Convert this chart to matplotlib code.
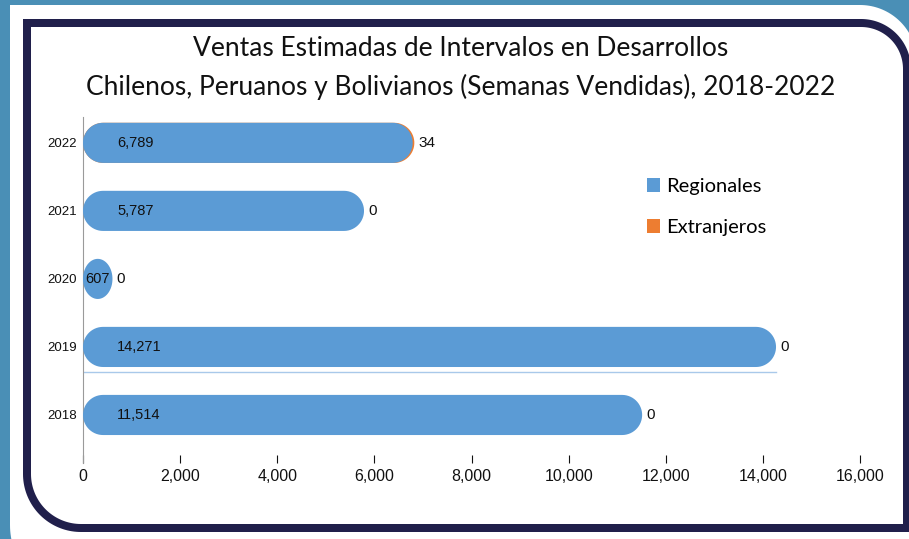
import matplotlib
matplotlib.use("Agg")
import matplotlib.pyplot as plt
from matplotlib.patches import PathPatch, Patch
from matplotlib.path import Path
from matplotlib.transforms import Affine2D
import numpy as np

# data
years = ["2018", "2019", "2020", "2021", "2022"]
regionales = [11514, 14271, 607, 5787, 6789]
extranjeros = [0, 0, 0, 0, 34]
x_ticks = [0, 2000, 4000, 6000, 8000, 10000, 12000, 14000, 16000]
series_names = ["Regionales", "Extranjeros"]
title = ("Ventas Estimadas de Intervalos en Desarrollos\n"
         "Chilenos, Peruanos y Bolivianos (Semanas Vendidas), 2018-2022")

W, H = 909, 539
BLUE = "#5b9bd5"
ORANGE = "#ed7d31"
NAVY = "#201f4b"
TEAL = "#4a8fb6"
SANS = "Liberation Sans"


def card_path(x0, y0, x1, y1, r_tr, r_bl, n=40):
    # box in pixel coords (y down), round top-right and bottom-left corners
    pts = [(x0, y0)]
    t = np.linspace(-np.pi / 2, 0, n)
    pts += list(zip(x1 - r_tr + r_tr * np.cos(t), y0 + r_tr + r_tr * np.sin(t)))
    pts.append((x1, y1))
    t = np.linspace(np.pi / 2, np.pi, n)
    pts += list(zip(x0 + r_bl + r_bl * np.cos(t), y1 - r_bl + r_bl * np.sin(t)))
    pts.append((x0, y0))
    return Path(pts, closed=True)


def capsule(x0, x1, yc, h, rx_max, n=30):
    # bar with fully rounded ends, squashed into an ellipse if too short
    rx = min(rx_max, (x1 - x0) / 2)
    ry = h / 2
    t = np.linspace(-np.pi / 2, np.pi / 2, n)
    pts = list(zip(x1 - rx + rx * np.cos(t), yc + ry * np.sin(t)))
    t = np.linspace(np.pi / 2, 3 * np.pi / 2, n)
    pts += list(zip(x0 + rx + rx * np.cos(t), yc + ry * np.sin(t)))
    pts.append(pts[0])
    return Path(pts, closed=True)


fig = plt.figure(figsize=(W / 100, H / 100), dpi=100)
fig.patch.set_facecolor(TEAL)
px = Affine2D().scale(1 / W, -1 / H).translate(0, 1) + fig.transFigure

fig.add_artist(PathPatch(card_path(10, 5, 917, 600, 57, 75), transform=px,
                         facecolor="white", edgecolor="none", zorder=-5))
fig.add_artist(PathPatch(card_path(23, 19, 911, 532, 50, 58), transform=px,
                         facecolor=NAVY, edgecolor="none", zorder=-4))
fig.add_artist(PathPatch(card_path(31, 27, 903, 524, 42, 50), transform=px,
                         facecolor="white", edgecolor="none", zorder=-3))

left, right, top, bottom = 83, 860, 117, 463
ax = fig.add_axes([left / W, 1 - bottom / H, (right - left) / W, (bottom - top) / H])
ax.patch.set_alpha(0)
ylo, yhi = -0.706, 4.38
ax.set_xlim(0, 16000)
ax.set_ylim(ylo, yhi)

ppx = (right - left) / 16000          # pixels per data unit along x
ppy = (bottom - top) / (yhi - ylo)    # pixels per category
bar_h = 0.59
rx_max = (bar_h * ppy / 2) / ppx

for i, (r, e) in enumerate(zip(regionales, extranjeros)):
    total = r + e
    if e > 0:
        ax.add_patch(PathPatch(capsule(0, total, i, bar_h, rx_max),
                               facecolor=ORANGE, edgecolor="none", zorder=2))
    ax.add_patch(PathPatch(capsule(0, r, i, bar_h, rx_max),
                           facecolor=BLUE, edgecolor="none", zorder=3))
    if r > 1400:
        ax.text(700, i, f"{r:,}", ha="left", va="center", fontsize=10.5,
                family=SANS, color="#111111", zorder=4)
    else:
        ax.text(r / 2, i, f"{r:,}", ha="center", va="center", fontsize=10.5,
                family=SANS, color="#111111", zorder=4)
    ax.text(total + 85, i, f"{e:,}", ha="left", va="center", fontsize=11,
            family=SANS, color="#111111", zorder=4)

# thin highlight line under the 2019 bar
ax.plot([0, regionales[1]], [1 - bar_h / 2 - 0.075] * 2, color="#a9c9ea",
        lw=1, zorder=1)

ax.set_yticks(range(len(years)), years, family=SANS, fontsize=9.5)
ax.set_xticks(x_ticks, [f"{v:,}" for v in x_ticks], family=SANS, fontsize=11.5)
ax.tick_params(axis="y", length=0, pad=4.5, colors="#111111")
ax.tick_params(axis="x", direction="in", length=6, width=0.8, pad=4,
               colors="#111111")
for s in ["top", "right", "bottom"]:
    ax.spines[s].set_visible(False)
ax.spines["left"].set_color("#9a9a9a")
ax.spines["left"].set_linewidth(0.8)

fig.text(461 / W, 1 - 68 / H, title, ha="center", va="center", fontsize=19,
         family="Lato", color="#111111", linespacing=1.6)

handles = [Patch(facecolor=BLUE), Patch(facecolor=ORANGE)]
ax.legend(handles, series_names, loc="upper left",
          bbox_to_anchor=(647 / W, 1 - 178 / H), bbox_transform=fig.transFigure,
          frameon=False, borderpad=0, borderaxespad=0,
          prop={"family": "Lato", "size": 14.5}, handlelength=0.65,
          handleheight=0.65, handletextpad=0.3, labelspacing=1.2)

fig.savefig("out.png", dpi=100, facecolor=fig.get_facecolor())
